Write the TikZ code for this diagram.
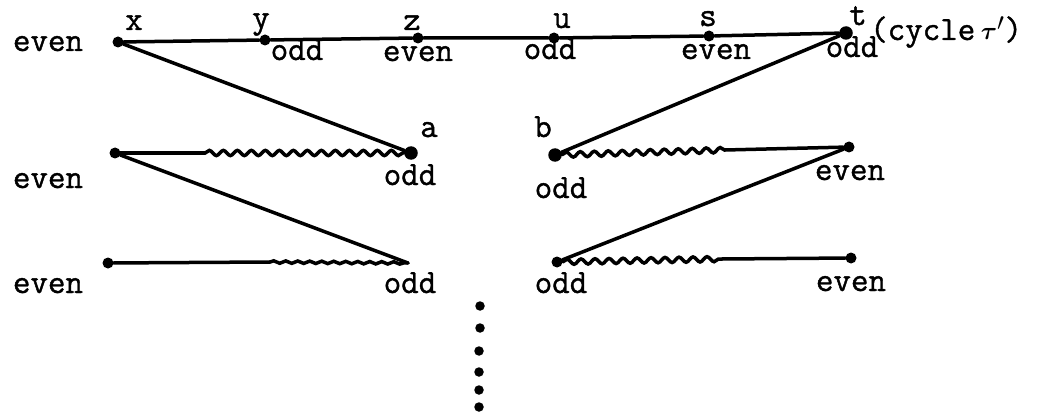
\documentclass[tikz,border=0pt]{standalone}
\usepackage{amsmath}
\usepackage{fontspec}
\newfontfamily\tw{Latin Modern Mono}[FakeBold=1.2]
\usetikzlibrary{decorations.pathmorphing}
\begin{document}
\begin{tikzpicture}[x=1pt,y=-1pt,
  edge/.style={line width=3.5pt, line cap=round},
  wavy/.style={edge, decorate, decoration={snake, amplitude=2.6pt, segment length=14pt}},
  lowwavy/.style={edge, decorate, decoration={snake, amplitude=1.2pt, segment length=12pt}},
  vdot/.style={circle, fill=black, inner sep=0pt, minimum size=11pt},
  bigdot/.style={vdot, minimum size=13.5pt},
  edot/.style={circle, fill=black, inner sep=0pt, minimum size=9.5pt},
  lbl/.style={font=\fontsize{34}{34}\selectfont\tw, inner sep=0pt, anchor=base}]
\useasboundingbox (0,0) rectangle (1052,417);
% vertices
\node[vdot] (X) at (118,42) {};
\node[vdot] (Y) at (265,40) {};
\node[vdot] (Z) at (418,38) {};
\node[vdot] (U) at (554,38) {};
\node[vdot] (S) at (709,36) {};
\node[bigdot] (T) at (846,33) {};
\node[bigdot] (A) at (411,153) {};
\node[vdot] (L2) at (115,153) {};
\node[bigdot] (B) at (555,155) {};
\node[vdot] (R2) at (849,147) {};
\node[vdot] (L3) at (108,263) {};
\coordinate (M3) at (408,263);
\node[vdot] (R3a) at (557,262) {};
\node[vdot] (R3b) at (851,258) {};
\coordinate (w2) at (205,153);
\coordinate (w3) at (270,262);
\coordinate (wb) at (725,150);
\coordinate (wr3) at (722,259);
% edges
\draw[edge] (X) -- (Y) -- (Z) -- (U) -- (S) -- (T);
\draw[edge] (X) -- (A);
\draw[edge] (L2) -- (w2);
\draw[wavy] (w2) -- (A);
\draw[edge] (L2) -- (M3);
\draw[edge] (L3) -- (w3);
\draw[lowwavy] (w3) -- (M3);
\draw[edge] (T) -- (B);
\draw[wavy] (B) -- (wb);
\draw[edge] (wb) -- (R2);
\draw[edge] (R2) -- (R3a);
\draw[wavy] (R3a) -- (wr3);
\draw[edge] (wr3) -- (R3b);
% ellipsis dots
\node[edot] (d1) at (480,306) {};
\node[edot] (d2) at (480,328) {};
\node[edot] (d3) at (479,351) {};
\node[edot] (d4) at (479,372) {};
\node[edot] (d5) at (479,390) {};
\node[edot] (d6) at (479,407) {};
% labels
\node[lbl] (e1) at (48,51) {even};
\node[lbl] (lx) at (134,30) {x};
\node[lbl] (ly) at (261,28) {y};
\node[lbl] (oy) at (297,60) {odd};
\node[lbl] (lz) at (412,30) {z};
\node[lbl] (ez) at (418,61) {even};
\node[lbl] (lu) at (562,28) {u};
\node[lbl] (ou) at (550,59) {odd};
\node[lbl] (ls) at (708,26) {s};
\node[lbl] (es) at (716,59) {even};
\node[lbl] (lt) at (858,25) {t};
\node[lbl] (ot) at (852,57) {odd};
\node[lbl, anchor=base west] (cyc) at (870,40) {(cycle\,{\fontsize{40}{40}\selectfont$\boldsymbol{\tau}'$})};
\node[lbl] (la) at (429,137) {a};
\node[lbl] (oa) at (410,185) {odd};
\node[lbl] (lb) at (543,137) {b};
\node[lbl] (ob) at (561,198) {odd};
\node[lbl] (e2) at (48,188) {even};
\node[lbl] (e2r) at (850,180) {even};
\node[lbl] (e3) at (48,293) {even};
\node[lbl] (o3) at (410,293) {odd};
\node[lbl] (o3r) at (561,293) {odd};
\node[lbl] (e3r) at (851,291) {even};
\end{tikzpicture}
\end{document}
